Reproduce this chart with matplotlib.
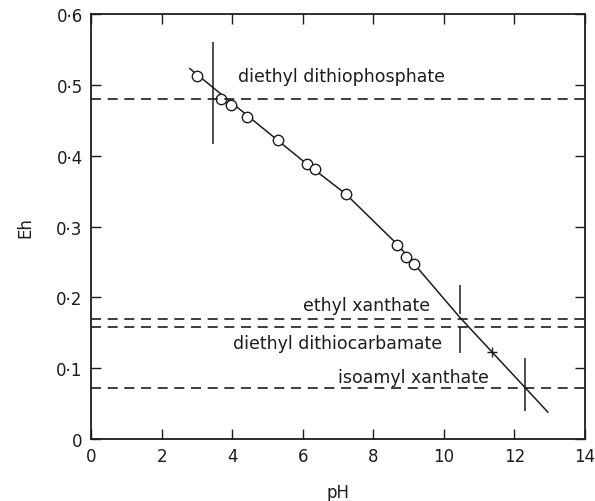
import matplotlib
matplotlib.use("Agg")
import matplotlib.pyplot as plt
from matplotlib.ticker import FixedLocator, FuncFormatter

# measured points (open circles)
ph_pts = [3.01, 3.68, 3.96, 4.43, 5.31, 6.11, 6.35, 7.22, 8.68, 8.94, 9.16]
eh_pts = [0.512, 0.480, 0.471, 0.454, 0.422, 0.388, 0.381, 0.346, 0.274, 0.257, 0.247]

# drawn curve through the points
ph_line = [2.80, 6.00, 7.22, 8.70, 10.45, 12.95]
eh_line = [0.523, 0.393, 0.346, 0.274, 0.172, 0.038]

# single cross mark on the curve
ph_cross = [11.38]
eh_cross = [0.1225]

# collector potentials (dashed) and labels
collectors = ["diethyl dithiophosphate", "ethyl xanthate",
              "diethyl dithiocarbamate", "isoamyl xanthate"]
eh_collector = [0.480, 0.170, 0.158, 0.072]

# vertical marks: pH, Eh bottom, Eh top
mark_ph = [3.45, 10.45, 10.45, 12.29]
mark_lo = [0.417, 0.177, 0.121, 0.040]
mark_hi = [0.561, 0.218, 0.158, 0.115]

# label anchors
lab_x = [4.16, 9.60, 9.96, 6.99]
lab_y = [0.513, 0.189, 0.135, 0.087]
lab_ha = ["left", "right", "right", "left"]

col = "#1c1c1c"

fig = plt.figure(figsize=(5.95, 5.02), dpi=100)
ax = fig.add_axes([0.153, 0.1235, 0.83, 0.8465])

ax.plot(ph_line, eh_line, color=col, lw=1.1)
ax.plot(ph_pts, eh_pts, "o", ms=7.5, mfc="white", mec=col, mew=1.0)
ax.plot(ph_cross, eh_cross, "+", ms=7, color=col, mew=1.0)

for e in eh_collector:
    ax.axhline(e, color=col, lw=1.2, ls=(0, (6, 4)))

ax.vlines(mark_ph, mark_lo, mark_hi, color=col, lw=1.1)

for name, x, y, ha in zip(collectors, lab_x, lab_y, lab_ha):
    ax.text(x, y, name, ha=ha, va="center", fontsize=12.5, color=col)

ax.set_xlim(0, 14)
ax.set_ylim(0, 0.6)
ax.xaxis.set_major_locator(FixedLocator([0, 2, 4, 6, 8, 10, 12, 14]))
ax.yaxis.set_major_locator(FixedLocator([0, 0.1, 0.2, 0.3, 0.4, 0.5, 0.6]))
ax.yaxis.set_major_formatter(FuncFormatter(
    lambda v, p: "0" if abs(v) < 1e-9 else f"{v:.1f}".replace(".", "\u00b7")))
ax.tick_params(direction="in", top=True, right=True, length=7, width=1.0,
               labelsize=12, colors=col, pad=6)
for s in ax.spines.values():
    s.set_linewidth(1.3)
    s.set_color(col)

ax.set_xlabel("pH", fontsize=12, color=col, labelpad=13)
ax.set_ylabel("Eh", fontsize=12, color=col, labelpad=16)

fig.savefig("out.png", dpi=100)
